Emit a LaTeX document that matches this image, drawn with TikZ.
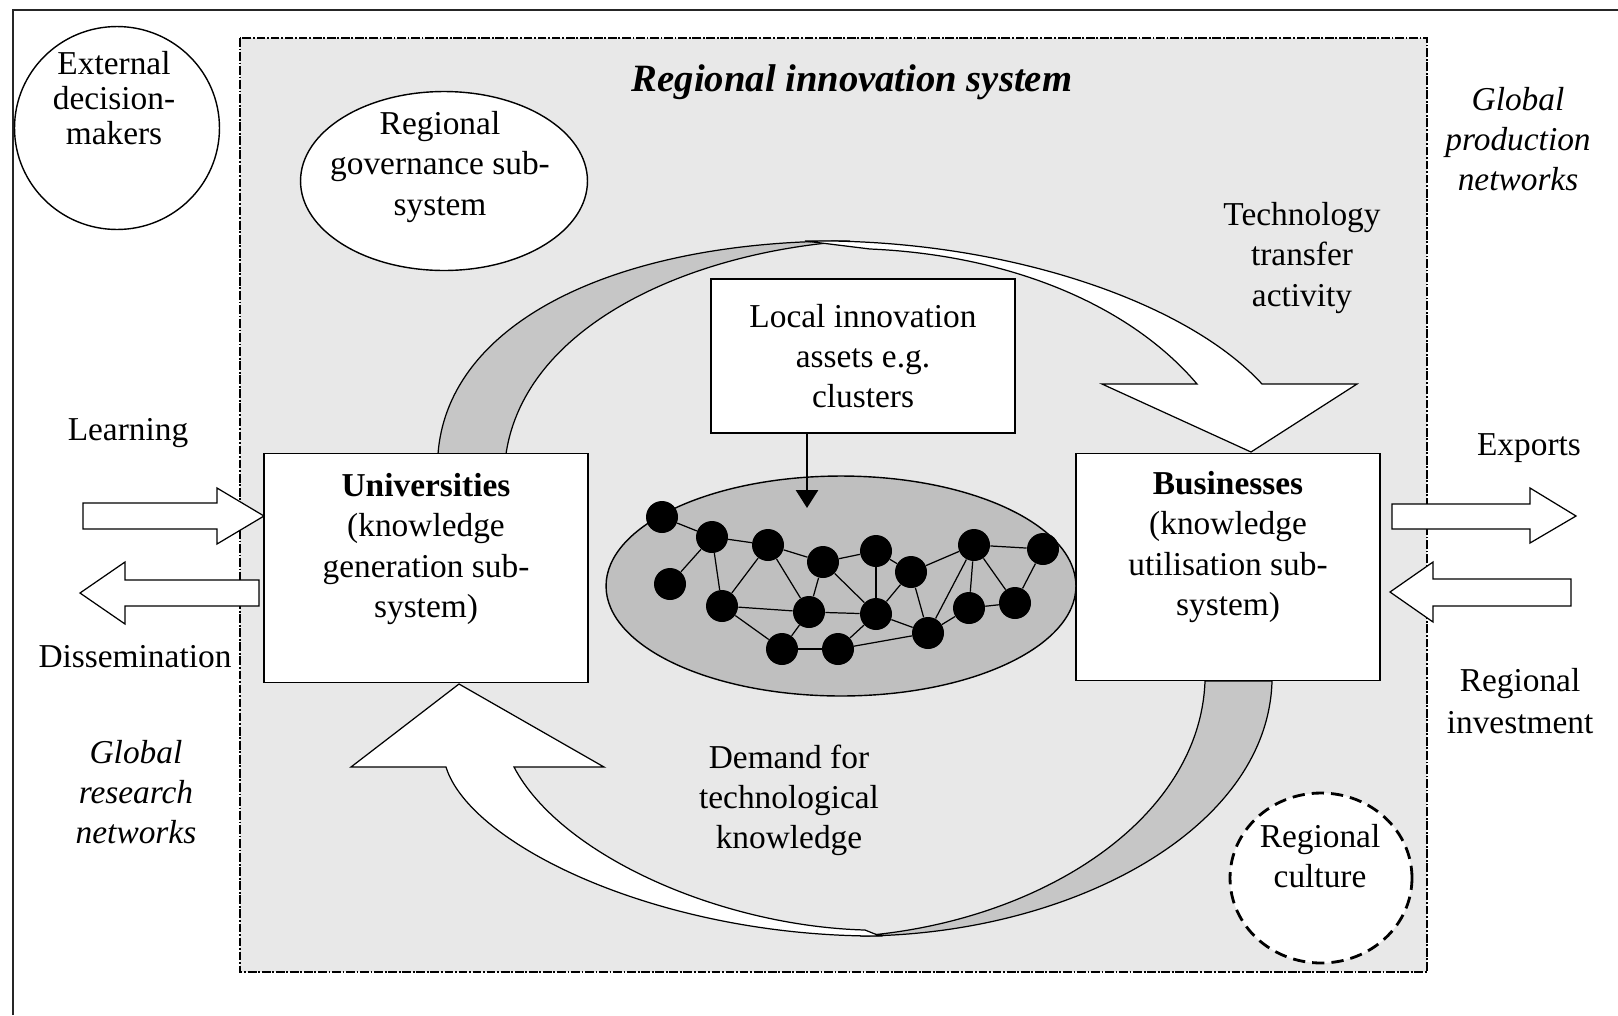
\documentclass[tikz,border=0pt]{standalone}
\usepackage{fontspec}
\setmainfont{Liberation Serif}
\usetikzlibrary{shapes.geometric,arrows.meta}

\begin{document}
\begin{tikzpicture}[x=0.02cm,y=-0.02cm]
\tikzstyle{every node}=[font=\fontsize{19}{22.8}\selectfont, align=center, inner sep=0pt];
\tikzstyle{box}=[draw, fill=white, line width=1pt];
\tikzstyle{blob}=[draw, ellipse, fill=white, line width=0.8pt];
\tikzstyle{firm}=[circle, fill=black, minimum size=0.64cm];
\tikzstyle{link}=[line width=0.7pt];
\tikzstyle{back}=[fill=gray!45, draw=black, line width=0.7pt];
\tikzstyle{front}=[fill=white, draw=black, line width=0.7pt];
\tikzstyle{flow}=[fill=white, draw=black, line width=0.7pt];
\tikzstyle{note}=[font=\fontsize{19}{22.8}\selectfont\itshape];

\path[use as bounding box, fill=white] (0,0) rectangle (1618,1015);
\draw[line width=1.2pt, black!85] (13,1015) -- (13,10) -- (1618,10);
\filldraw[fill=gray!18, draw=black, line width=0.7pt, dash pattern=on 5pt off 1pt on 1pt off 1pt] (240,38) rectangle (1427,972);

\filldraw[back] (438,454) .. controls (448,320) and (620,240) .. (850,241) .. controls (690,252) and (525,325) .. (506,454) -- cycle;
\filldraw[front] (805,241) .. controls (1000,238) and (1185,300) .. (1262,384) -- (1357,384) -- (1251,452) -- (1102,384) -- (1197,384) .. controls (1130,305) and (1010,255) .. (870,249) -- cycle;
\filldraw[back] (1272,681) .. controls (1268,830) and (1070,935) .. (860,936) .. controls (1040,922) and (1200,820) .. (1205,681) -- cycle;
\filldraw[front] (880,936) .. controls (660,937) and (470,845) .. (446,767) -- (351,767) -- (459,684) -- (604,767) -- (514,767) .. controls (560,855) and (720,926) .. (865,930) -- cycle;

\node[blob, minimum width=4.1cm, minimum height=4.06cm] (ext) at (117,128) {};
\node[font=\fontsize{19}{20}\selectfont] (exttxt) at (114,98) {External\\decision-\\makers};
\node[blob, minimum width=5.74cm, minimum height=3.58cm] (gov) at (444,181) {};
\node (govtxt) at (440,167) {Regional\\governance sub-\\system};
\node[font=\fontsize{22}{26}\selectfont\bfseries\itshape] (ris) at (852,82) {Regional innovation system};
\node[note] (gpn) at (1518,139) {Global\\production\\networks};
\node (tta) at (1302,258) {Technology\\transfer\\activity};

\node[box, minimum width=6.08cm, minimum height=3.08cm] (local) at (863,356) {Local innovation\\assets e.g.\\clusters};
\node[box, minimum width=6.48cm, minimum height=4.58cm] (univ) at (426,568) {};
\node (univtxt) at (426,549) {\textbf{Universities}\\(knowledge\\generation sub-\\system)};
\node[box, minimum width=6.08cm, minimum height=4.54cm] (biz) at (1228,567) {};
\node (biztxt) at (1228,547) {\textbf{Businesses}\\(knowledge\\utilisation sub-\\system)};

\node[blob, fill=gray!50, minimum width=9.4cm, minimum height=4.4cm] (clu) at (841,586) {};
\foreach \n/\x/\y in {k1/662/517, k2/712/537, k3/768/545, k4/823/562, k5/876/551, k6/911/572,
  k7/974/545, k8/1043/549, k9/670/584, k10/722/606, k11/809/612, k12/876/614, k13/928/633,
  k14/969/608, k15/1015/603, k16/782/649, k17/838/649}
  \node[firm] (\n) at (\x,\y) {};
\foreach \u/\v in {k1/k2, k2/k3, k2/k9, k2/k10, k3/k4, k3/k10, k3/k11, k4/k5, k4/k11, k4/k12,
  k5/k12, k5/k6, k6/k7, k6/k12, k6/k13, k7/k8, k7/k13, k7/k14, k7/k15, k8/k15, k14/k15,
  k14/k13, k10/k11, k10/k16, k11/k12, k11/k16, k16/k17, k17/k13, k12/k13, k12/k17}
  \draw[link] (\u) -- (\v);
\coordinate (drop) at (807,508);
\draw[line width=1.6pt, -{Triangle[length=0.36cm, width=0.44cm]}] (local.south -| drop) -- (drop);

\filldraw[flow] (83,503) -- (217,503) -- (217,488) -- (264,516) -- (217,544) -- (217,529) -- (83,529) -- cycle;
\filldraw[flow] (259,580) -- (125,580) -- (125,562) -- (80,593) -- (125,624) -- (125,606) -- (259,606) -- cycle;
\filldraw[flow] (1392,504) -- (1530,504) -- (1530,488) -- (1576,516) -- (1530,543) -- (1530,529) -- (1392,529) -- cycle;
\filldraw[flow] (1571,579) -- (1433,579) -- (1433,562) -- (1390,592) -- (1433,622) -- (1433,606) -- (1571,606) -- cycle;

\node (learn) at (128,433) {Learning};
\node (diss) at (135,657) {Dissemination};
\node[note] (grn) at (136,792) {Global\\research\\networks};
\node (exp) at (1529,448) {Exports};
\node[font=\fontsize{19}{24}\selectfont] (inv) at (1520,701) {Regional\\investment};
\node (demand) at (789,800) {Demand for\\technological\\knowledge};

\node[blob, line width=1.6pt, dash pattern=on 7pt off 4pt, minimum width=3.64cm, minimum height=3.4cm] (cult) at (1321,878) {};
\node (culttxt) at (1320,856) {Regional\\culture};
\end{tikzpicture}
\end{document}
